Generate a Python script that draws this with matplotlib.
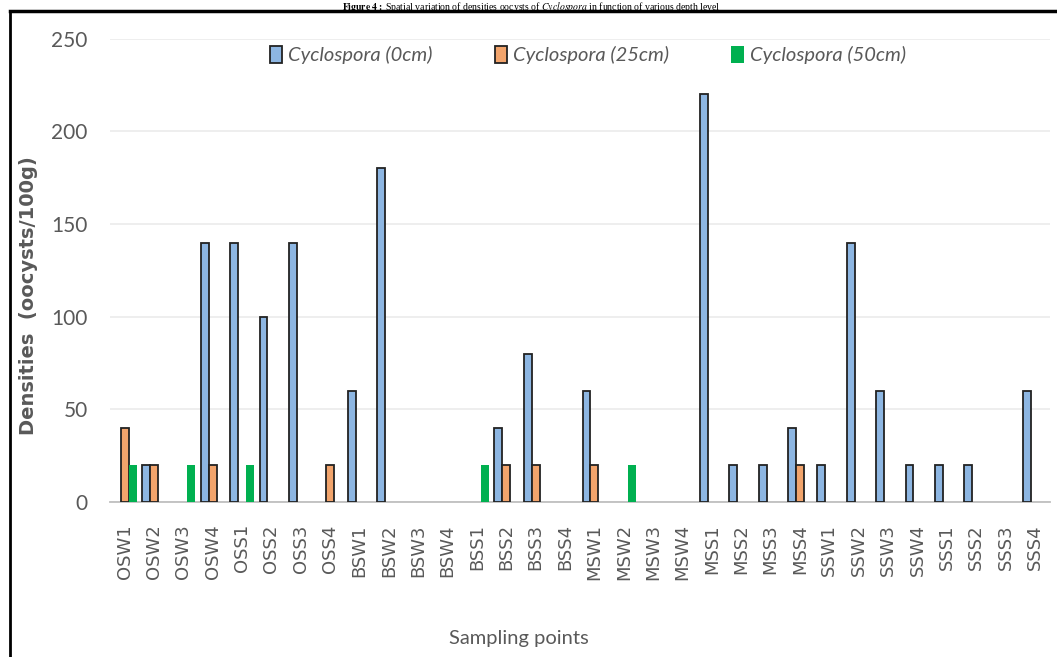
import numpy as np
import matplotlib
matplotlib.use("Agg")
import matplotlib.pyplot as plt
from matplotlib.lines import Line2D
from matplotlib.patches import Patch

# sampling points
points = ["OSW1", "OSW2", "OSW3", "OSW4", "OSS1", "OSS2", "OSS3", "OSS4",
          "BSW1", "BSW2", "BSW3", "BSW4", "BSS1", "BSS2", "BSS3", "BSS4",
          "MSW1", "MSW2", "MSW3", "MSW4", "MSS1", "MSS2", "MSS3", "MSS4",
          "SSW1", "SSW2", "SSW3", "SSW4", "SSS1", "SSS2", "SSS3", "SSS4"]

# densities (oocysts/100g) per depth
cyclo_0cm = [0, 20, 0, 140, 140, 100, 140, 0,
             60, 180, 0, 0, 0, 40, 80, 0,
             60, 0, 0, 0, 220, 20, 20, 40,
             20, 140, 60, 20, 20, 20, 0, 60]
cyclo_25cm = [40, 20, 0, 20, 0, 0, 0, 20,
              0, 0, 0, 0, 0, 20, 20, 0,
              20, 0, 0, 0, 0, 0, 0, 20,
              0, 0, 0, 0, 0, 0, 0, 0]
cyclo_50cm = [20, 0, 20, 0, 20, 0, 0, 0,
              0, 0, 0, 0, 20, 0, 0, 0,
              0, 20, 0, 0, 0, 0, 0, 0,
              0, 0, 0, 0, 0, 0, 0, 0]

yticks = [0, 50, 100, 150, 200, 250]

blue = "#8DB6E2"
orange = "#F2A46C"
green = "#00B050"
grey_txt = "#595959"
narrow = "Lato"

fig = plt.figure(figsize=(10.57, 6.57), dpi=100)
ax = fig.add_axes([0.104, 0.236, 0.889, 0.705])

x = np.arange(len(points))
w = 0.27


def draw(vals, off, color, edge):
    # zero values are not drawn as bars
    v = np.array(vals, dtype=float)
    keep = v > 0
    lw = 1.3 if edge != "none" else 0
    ax.bar(x[keep] + off, v[keep], w, color=color, edgecolor=edge, linewidth=lw, zorder=3)


draw(cyclo_0cm, -w, blue, "#222222")
draw(cyclo_25cm, 0, orange, "#222222")
draw(cyclo_50cm, w, green, "none")

ax.set_xlim(-0.5, len(points) - 0.5)
ax.set_ylim(0, 250)
ax.set_yticks(yticks)
ax.set_xticks(x)
ax.set_xticklabels(points, rotation=90, fontsize=13, color=grey_txt)
for lab in ax.get_yticklabels():
    lab.set_family(narrow)
    lab.set_fontsize(15)
    lab.set_color(grey_txt)
ax.tick_params(axis="x", length=0, pad=16)
ax.tick_params(axis="y", length=0, pad=16)
ax.grid(axis="y", color="#EBEBEB", linewidth=1.2, zorder=0)
for s in ["top", "right", "left"]:
    ax.spines[s].set_visible(False)
ax.spines["bottom"].set_color("#BFBFBF")
ax.spines["bottom"].set_linewidth(1.3)

handles = [Patch(facecolor=blue, edgecolor="#222222", linewidth=1.3),
           Patch(facecolor=orange, edgecolor="#222222", linewidth=1.3),
           Patch(facecolor=green, edgecolor="none")]
fig.legend(handles, ["Cyclospora (0cm)", "Cyclospora (25cm)", "Cyclospora (50cm)"],
           loc="center", bbox_to_anchor=(0.556, 0.916), ncol=3, frameon=False,
           prop={"family": narrow, "style": "italic", "size": 14.5},
           labelcolor=grey_txt, handlelength=0.6, handleheight=0.9,
           handletextpad=0.3, columnspacing=3.1)

fig.text(0.027, 0.55, "Densities  (oocysts/100g)", rotation=90, ha="center", va="center",
         fontsize=14, fontweight="bold", color=grey_txt)
fig.text(0.491, 0.028, "Sampling points", ha="center", va="center",
         fontsize=14.5, family=narrow, color=grey_txt)

# caption above the frame
fig.text(0.503, 0.9995, r"$\mathbf{Figure\ 4:}$ Spatial variation of densities oocysts of $\mathit{Cyclospora}$ in function of various depth level",
         ha="center", va="top", fontsize=7, family="Liberation Serif", color="black",
         math_fontfamily="stix")

# frame
fig.add_artist(Line2D([0.0095, 0.0095], [0, 0.984], transform=fig.transFigure, color="black", linewidth=2))
fig.add_artist(Line2D([0.0095, 1.0], [0.984, 0.984], transform=fig.transFigure, color="black", linewidth=2.5))

fig.savefig("out.png", dpi=100)
